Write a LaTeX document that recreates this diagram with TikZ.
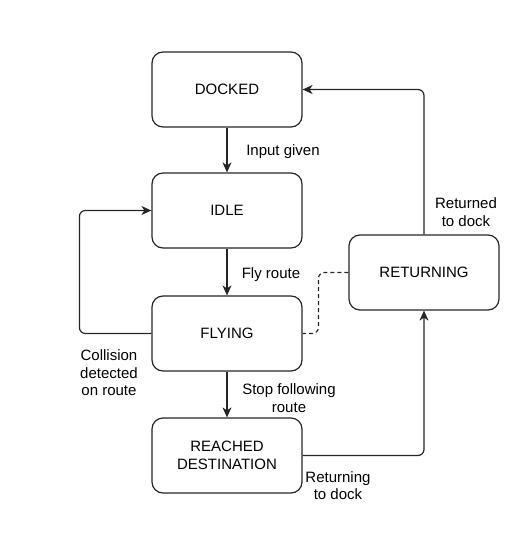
\documentclass[tikz,border=0pt]{standalone}
\usepackage{fontspec}
\setmainfont{Liberation Sans}
\usetikzlibrary{arrows.meta}
\begin{document}
\begin{tikzpicture}[x=1pt,y=-1pt,
  font=\fontsize{15}{17.5}\selectfont,
  state/.style={draw=black!85, line width=1.2pt, rectangle, rounded corners=11pt,
    minimum width=150pt, minimum height=75pt, align=center, inner sep=0pt},
  conn/.style={draw=black!85, line width=1.2pt, rounded corners=6pt,
    -{Stealth[length=10pt,width=9pt,inset=3pt]}},
  lbl/.style={align=center, inner sep=0pt}]
\useasboundingbox (0,0) rectangle (524,546);
\node[state] (docked) at (227,89.5) {\raisebox{-1.2pt}{DOCKED}};
\node[state] (idle) at (227,210.5) {\raisebox{-1.2pt}{IDLE}};
\node[state] (flying) at (227,333.5) {\raisebox{-1.2pt}{FLYING}};
\node[state] (reached) at (227,455.5) {REACHED\\DESTINATION};
\node[state] (returning) at (424,272.5) {\raisebox{-1.2pt}{RETURNING}};

\draw[conn] (docked) -- (idle);
\draw[conn] (idle) -- (flying);
\draw[conn] (flying) -- (reached);
\draw[conn] (flying.west) -| ([xshift=-72pt]idle.west) -- (idle.west);
\draw[conn] (reached.east) -| (returning.south);
\draw[conn] (returning.north) |- (docked.east);
\draw[draw=black!85, line width=1.2pt, dashed, dash pattern=on 4pt off 3pt, rounded corners=6pt]
  (returning.west) -- ([xshift=-30pt]returning.west) |- (flying.east);

\node[lbl] (l1) at (283,151.5) {Input given};
\node[lbl] (l2) at (271,274.5) {Fly route};
\node[lbl] (l3) at (289,398) {Stop following\\route};
\node[lbl] (l4) at (109,373) {Collision\\detected\\on route};
\node[lbl] (l5) at (338,485.5) {Returning\\to dock};
\node[lbl] (l6) at (466,212) {Returned\\to dock};
\end{tikzpicture}
\end{document}
